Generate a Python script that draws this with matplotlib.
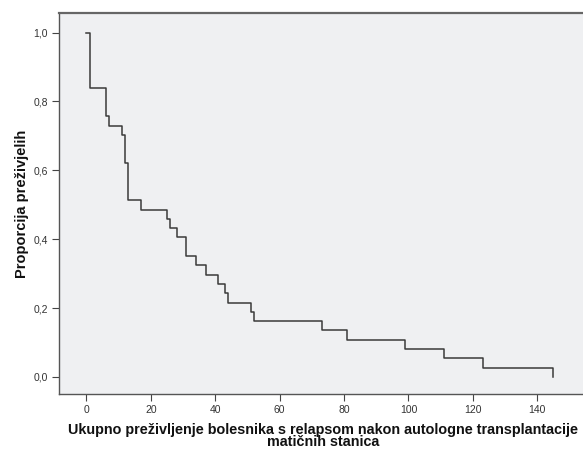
import matplotlib
matplotlib.use("Agg")
import matplotlib.pyplot as plt

plt.rcParams['font.family'] = ['Liberation Sans', 'DejaVu Sans']

# Kaplan-Meier steps (months, proportion surviving)
times = [0, 1, 6, 7, 11, 12, 13, 17, 25, 26, 28, 31, 34, 37, 41, 43, 44,
         51, 52, 73, 81, 99, 111, 123, 145]
surv = [1.0, 0.838, 0.757, 0.730, 0.703, 0.622, 0.514, 0.486, 0.459, 0.432,
        0.405, 0.351, 0.324, 0.297, 0.270, 0.243, 0.216, 0.189, 0.162,
        0.135, 0.108, 0.081, 0.054, 0.027, 0.0]

xticks = [0, 20, 40, 60, 80, 100, 120, 140]
yticks = [0.0, 0.2, 0.4, 0.6, 0.8, 1.0]
ytick_labels = ['0,0', '0,2', '0,4', '0,6', '0,8', '1,0']

fig = plt.figure(figsize=(5.83, 4.49), dpi=100)
ax = fig.add_axes([0.1012, 0.1225, 0.905, 0.8480])
ax.set_facecolor('#eff0f2')

ax.step(times, surv, where='post', color='#3a3a3a', linewidth=1.1)

ax.set_xlim(-8.5, 155.3)
ax.set_ylim(-0.0495, 1.056)
ax.set_xticks(xticks)
ax.set_xticklabels([str(v) for v in xticks])
ax.set_yticks(yticks)
ax.set_yticklabels(ytick_labels)
ax.tick_params(labelsize=7.5, length=5, width=0.8, color='#444444',
               labelcolor='#333333', pad=3)

for side in ['left', 'bottom', 'top']:
    ax.spines[side].set_color('#555555')
    ax.spines[side].set_linewidth(1.0)
ax.spines['right'].set_visible(False)
ax.spines['top'].set_linewidth(1.6)
ax.spines['top'].set_color('#666666')

ax.set_xlabel('Ukupno preživljenje bolesnika s relapsom nakon autologne transplantacije\nmatičnih stanica',
              fontsize=10.4, fontweight='bold', color='#111111', labelpad=6,
              linespacing=0.78)
ax.set_ylabel('Proporcija preživjelih', fontsize=10.5, fontweight='bold',
              color='#111111', labelpad=3)

fig.savefig('out.png', dpi=100)
